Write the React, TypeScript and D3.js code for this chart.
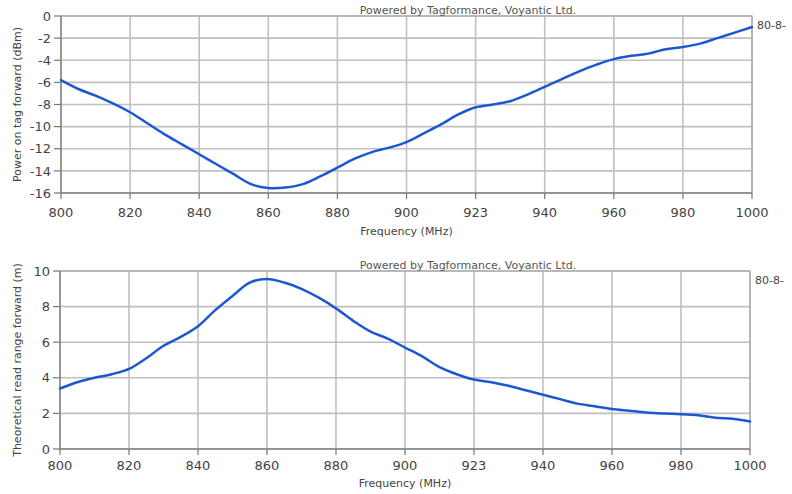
import React from "react";
import * as d3 from "d3";

const freqs = [800,805,810,815,820,825,830,835,840,845,850,855,860,865,870,875,880,885,890,895,900,905,910,915,920,925,930,935,940,945,950,955,960,965,970,975,980,985,990,995,1000];
const powerDbm = [-5.8,-6.6,-7.2,-7.9,-8.7,-9.7,-10.7,-11.6,-12.5,-13.4,-14.3,-15.2,-15.55,-15.5,-15.2,-14.5,-13.7,-12.9,-12.3,-11.9,-11.4,-10.6,-9.8,-8.9,-8.25,-8.0,-7.7,-7.1,-6.4,-5.7,-5.0,-4.4,-3.9,-3.6,-3.4,-3.0,-2.8,-2.5,-2.0,-1.5,-1.0];
const rangeM = [3.4,3.75,4.0,4.2,4.5,5.1,5.8,6.3,6.9,7.8,8.6,9.35,9.55,9.35,9.0,8.5,7.9,7.2,6.6,6.2,5.7,5.2,4.6,4.2,3.9,3.75,3.55,3.3,3.05,2.8,2.55,2.4,2.25,2.15,2.05,2.0,1.95,1.9,1.75,1.7,1.55];

const xTickValues = [800,820,840,860,880,900,920,940,960,980,1000];
const xTickLabels = ["800","820","840","860","880","900","923","940","960","980","1000"];
const powerTicks = [0,-2,-4,-6,-8,-10,-12,-14,-16];
const rangeTicks = [0,2,4,6,8,10];

const FONT = "DejaVu Sans, Verdana, sans-serif";

type PanelProps = {
  left: number; right: number; top: number; bottom: number;
  yDomain: [number, number]; yTicks: number[]; values: number[];
  yLabel: string; xLabelY: number; tickLabelY: number;
};

function Panel(p: PanelProps) {
  const x = d3.scaleLinear().domain([800, 1000]).range([p.left, p.right]);
  const y = d3.scaleLinear().domain(p.yDomain).range([p.bottom, p.top]);
  const line = d3.line<number>()
    .x((_, i) => x(freqs[i]))
    .y((v) => y(v))
    .curve(d3.curveCatmullRom.alpha(0.5));
  const path = line(p.values) || "";
  const midY = (p.top + p.bottom) / 2;
  return (
    <g>
      {xTickValues.map((t) => (
        <line key={"gx" + t} x1={x(t)} x2={x(t)} y1={p.top} y2={p.bottom} stroke="#c0c0c0" strokeWidth={1.6} />
      ))}
      {p.yTicks.map((t) => (
        <line key={"gy" + t} x1={p.left} x2={p.right} y1={y(t)} y2={y(t)} stroke="#c0c0c0" strokeWidth={1.6} />
      ))}
      <rect x={p.left} y={p.top} width={p.right - p.left} height={p.bottom - p.top} fill="none" stroke="#a8a8a8" strokeWidth={1.2} />
      <line x1={p.left} x2={p.left} y1={p.top} y2={p.bottom} stroke="#8a8a8a" strokeWidth={1.4} />
      <line x1={p.left} x2={p.right} y1={p.bottom} y2={p.bottom} stroke="#8a8a8a" strokeWidth={1.6} />
      {p.yTicks.map((t) => (
        <g key={"ty" + t}>
          <line x1={p.left - 7} x2={p.left} y1={y(t)} y2={y(t)} stroke="#777" strokeWidth={1.2} />
          <text x={p.left - 10} y={y(t)} dy="0.36em" textAnchor="end" fontSize={13} fill="#444" fontFamily={FONT}>{t}</text>
        </g>
      ))}
      {xTickValues.map((t, i) => (
        <g key={"tx" + t}>
          <line x1={x(t)} x2={x(t)} y1={p.bottom} y2={p.bottom + 6} stroke="#777" strokeWidth={1.2} />
          <text x={x(t)} y={p.tickLabelY} textAnchor="middle" fontSize={13} fill="#444" fontFamily={FONT}>{xTickLabels[i]}</text>
        </g>
      ))}
      <path d={path} fill="none" stroke="#1c5ee0" strokeWidth={2.5} strokeLinejoin="round" strokeLinecap="round" />
      <path d={path} fill="none" stroke="#2a3f80" strokeWidth={0.8} strokeOpacity={0.5} />
      <text x={(p.left + p.right) / 2} y={p.xLabelY} textAnchor="middle" fontSize={11} fill="#444" fontFamily={FONT}>Frequency (MHz)</text>
      <text transform={`translate(21,${midY}) rotate(-90)`} textAnchor="middle" fontSize={11} fill="#444" fontFamily={FONT}>{p.yLabel}</text>
      <text x={468} y={p.top - 2} textAnchor="middle" fontSize={11} fill="#555" fontFamily={FONT}>Powered by Tagformance, Voyantic Ltd.</text>
      <text x={p.right + 5} y={p.top + 13} fontSize={11} fill="#444" fontFamily={FONT}>80-8-</text>
    </g>
  );
}

export default function App() {
  return (
    <svg width={792} height={494} style={{ position: "absolute", left: 0, top: 0, background: "#fff" }}>
      <rect x={0} y={0} width={792} height={494} fill="#fff" />
      <Panel left={61} right={752} top={16} bottom={193} yDomain={[-16, 0]} yTicks={powerTicks}
        values={powerDbm} yLabel="Power on tag forward (dBm)" xLabelY={235} tickLabelY={217} />
      <Panel left={60} right={750} top={271} bottom={449} yDomain={[0, 10]} yTicks={rangeTicks}
        values={rangeM} yLabel="Theoretical read range forward (m)" xLabelY={487} tickLabelY={470} />
    </svg>
  );
}
